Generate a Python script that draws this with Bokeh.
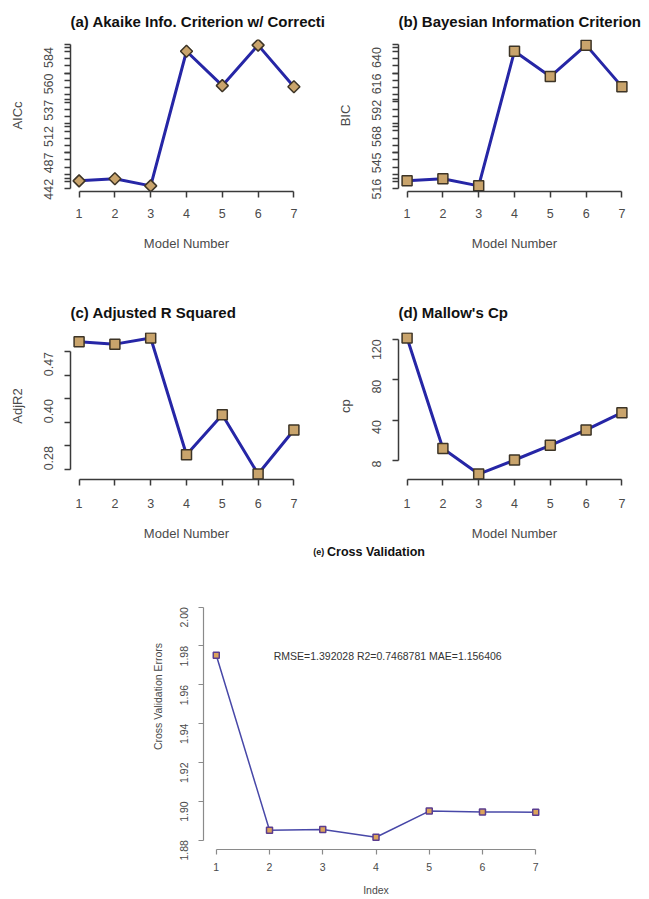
import math
import numpy as np
from bokeh.plotting import figure
from bokeh.layouts import column, row
from bokeh.models import FixedTicker, Label
from bokeh.embed import file_html
from bokeh.resources import INLINE

# ---------------- data ----------------
models = [1, 2, 3, 4, 5, 6, 7]

aicc = [439.8, 442.0, 434.4, 579.6, 542.5, 586.2, 541.4]
aicc_ticks = [442, 470.4, 498.8, 527.2, 555.6, 584]
aicc_labels = ["442", "487", "512", "537", "560", "584"]

bic = [514.1, 516.0, 509.3, 636.2, 612.3, 641.9, 602.8]
bic_ticks = [516, 540.8, 565.6, 590.4, 615.2, 640]
bic_labels = ["516", "545", "568", "592", "616", "640"]

adjr2 = [0.4904, 0.4858, 0.4983, 0.2622, 0.3433, 0.2233, 0.3123]
adjr2_ticks = [0.47, 0.375, 0.28]
adjr2_labels = ["0.47", "0.40", "0.28"]

cp = [121.3, 11.9, -13.3, 0.6, 15.1, 30.3, 47.4]
cp_ticks = [0, 40, 80, 120]
cp_labels = ["8", "40", "80", "120"]

cv_index = [1, 2, 3, 4, 5, 6, 7]
cv_err = [1.9752, 1.8851, 1.8855, 1.8815, 1.8950, 1.8945, 1.8944]
cv_ylim = [1.88, 2.00]
cv_ticks = [1.88, 1.90, 1.92, 1.94, 1.96, 1.98, 2.00]
cv_tick_labels = ["1.88", "1.90", "1.92", "1.94", "1.96", "1.98", "2.00"]
cv_text = "RMSE=1.392028 R2=0.7468781 MAE=1.156406"

# ---------------- style ----------------
FONT = "Liberation Sans"
AX = "#3a3a3a"
TXT = "#4a4a4a"
LINE = "#2626a6"
MFILL = "#c9a46c"
MEDGE = "#3d3426"


def padded(vals, frac=0.04):
    lo, hi = min(vals), max(vals)
    d = (hi - lo) * frac
    return (lo - d, hi + d)


def style_axes(p, xlabel, ylabel, tick_out=6, lab_size="12.5px", axlab_size="13px",
               ax_color=AX, ax_width=1.5):
    for ax in (p.xaxis[0], p.yaxis[0]):
        ax.axis_line_color = ax_color
        ax.axis_line_width = ax_width
        ax.major_tick_line_color = ax_color
        ax.major_tick_line_width = ax_width
        ax.minor_tick_line_color = ax_color
        ax.minor_tick_line_width = ax_width
        ax.major_tick_out = tick_out
        ax.major_tick_in = 0
        ax.minor_tick_out = tick_out
        ax.minor_tick_in = 0
        ax.major_label_text_font = FONT
        ax.major_label_text_font_size = lab_size
        ax.major_label_text_color = TXT
        ax.axis_label_text_font = FONT
        ax.axis_label_text_font_size = axlab_size
        ax.axis_label_text_font_style = "normal"
        ax.axis_label_text_color = TXT
    p.xaxis[0].axis_label = xlabel
    p.yaxis[0].axis_label = ylabel
    p.yaxis[0].major_label_orientation = math.pi / 2


def panel(title, ylabel, y, yticks, ylabels, ybounds, minor, diamond,
          width, height, left, right, top, bottom, title_standoff, x_standoff):
    p = figure(width=width, height=height, output_backend="svg", toolbar_location=None,
               x_range=padded(models), y_range=padded(y),
               min_border_left=left, min_border_right=right,
               min_border_top=top, min_border_bottom=bottom)
    p.outline_line_color = None
    p.grid.visible = False
    p.background_fill_color = "white"
    p.border_fill_color = "white"
    p.title.text = title
    p.title.align = "left"
    p.title.text_font = FONT
    p.title.text_font_size = "15px"
    p.title.text_font_style = "bold"
    p.title.text_color = "#111111"
    p.title.standoff = title_standoff
    p.xaxis.ticker = FixedTicker(ticks=models)
    p.xaxis.bounds = (1, 7)
    p.yaxis.ticker = FixedTicker(ticks=yticks, minor_ticks=minor)
    p.yaxis.major_label_overrides = {t: l for t, l in zip(yticks, ylabels)}
    p.yaxis.bounds = ybounds
    style_axes(p, "Model Number", ylabel)
    p.yaxis.major_label_standoff = 16
    p.yaxis.axis_label_standoff = 12
    p.xaxis.major_label_standoff = x_standoff
    p.xaxis.axis_label_standoff = 15
    p.line(models, y, line_color=LINE, line_width=3)
    if diamond:
        p.scatter(models, y, marker="square", angle=math.pi / 4, size=8.5,
                  fill_color=MFILL, line_color=MEDGE, line_width=1.5)
    else:
        p.scatter(models, y, marker="square", size=10,
                  fill_color=MFILL, line_color=MEDGE, line_width=1.5)
    return p


pa = panel("(a) Akaike Info. Criterion w/ Correcti", "AICc", aicc, aicc_ticks, aicc_labels,
           (431.1, 587.3), list(np.linspace(431.1, 587.3, 21)), True,
           328, 260, 70, 26, 39, 69, 19, 11)
pb = panel("(b) Bayesian Information Criterion", "BIC", bic, bic_ticks, bic_labels,
           (506.5, 642.9), list(np.linspace(506.5, 642.9, 21)), False,
           320, 260, 70, 18, 39, 69, 19, 11)
pc = panel("(c) Adjusted R Squared", "AdjR2", adjr2, adjr2_ticks, adjr2_labels,
           (0.2325, 0.47), [0.4225, 0.3275, 0.2325], False,
           328, 283, 70, 26, 72, 61, 23, 13)
pd = panel("(d) Mallow's Cp", "cp", cp, cp_ticks, cp_labels,
           (0, 120), [], False,
           320, 283, 70, 18, 72, 61, 23, 13)

# ---------------- panel (e) ----------------
E_H, E_BOTTOM = 355, 48
e_lo, e_hi = padded(cv_ylim)
e_hi_frame = e_lo + (e_hi - e_lo) * (E_H - E_BOTTOM) / 252.5   # headroom for the heading

pe = figure(width=648, height=E_H, output_backend="svg", toolbar_location=None,
            x_range=padded(cv_index), y_range=(e_lo, e_hi_frame),
            min_border_left=203, min_border_right=100, min_border_top=0,
            min_border_bottom=E_BOTTOM)
pe.outline_line_color = None
pe.grid.visible = False
pe.xaxis.ticker = FixedTicker(ticks=cv_index)
pe.xaxis.bounds = (1, 7)
pe.yaxis.ticker = FixedTicker(ticks=cv_ticks)
pe.yaxis.major_label_overrides = {t: l for t, l in zip(cv_ticks, cv_tick_labels)}
pe.yaxis.bounds = (1.88, 2.00)
style_axes(pe, "Index", "Cross Validation Errors", tick_out=5, lab_size="10.5px",
           axlab_size="10.5px", ax_color="#8a8a8a", ax_width=1.2)
pe.yaxis.major_label_standoff = 14
pe.yaxis.axis_label_standoff = 10
pe.xaxis.major_label_standoff = 8
pe.xaxis.axis_label_standoff = 10
pe.line(cv_index, cv_err, line_color="#4848a8", line_width=1.5)
pe.scatter(cv_index, cv_err, marker="square", size=6, fill_color="#dca35a",
           line_color="#5b3d8f", line_width=1.5)
pe.add_layout(Label(x=4.22, y=1.975, text=cv_text, text_align="center", text_baseline="middle",
                    text_font=FONT, text_font_size="10.5px", text_color="#333333"))
pe.add_layout(Label(x=4.0, y=2.0282, text="Cross Validation", text_align="center",
                    text_baseline="middle", text_font=FONT, text_font_size="12.5px",
                    text_font_style="bold", text_color="#111111"))
pe.add_layout(Label(x=3.03, y=2.0282, text="(e)", text_align="right", text_baseline="middle",
                    text_font=FONT, text_font_size="9px", text_font_style="bold",
                    text_color="#111111"))

layout = column(row(pa, pb), row(pc, pd), pe)
open("out.html", "w").write(file_html(layout, INLINE))
